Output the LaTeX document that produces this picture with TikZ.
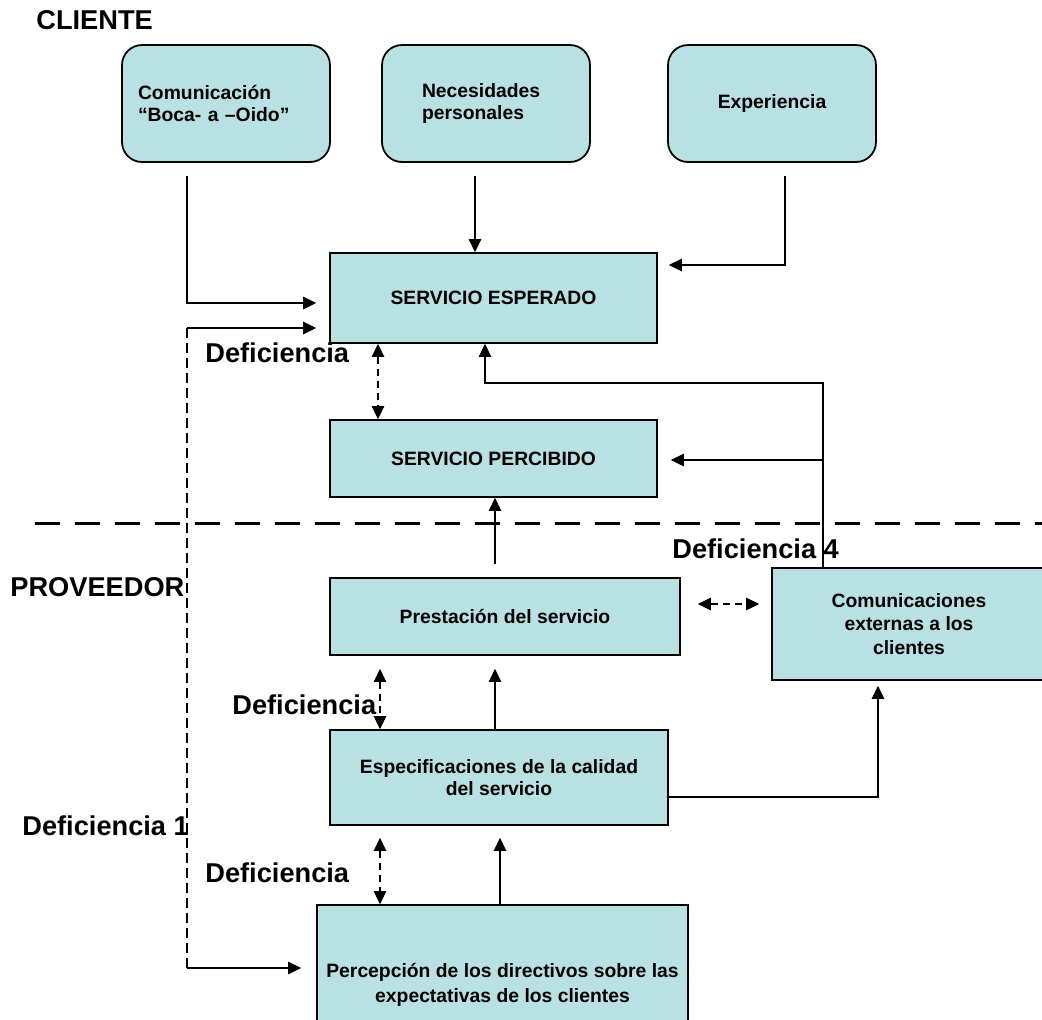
\documentclass[tikz,border=0pt]{standalone}
\usepackage{fontspec}
\setmainfont{Liberation Sans}
\usetikzlibrary{arrows.meta}
\definecolor{celeste}{RGB}{185,224,227}
\tikzset{
  caja/.style={draw, fill=celeste, line width=1pt, align=center, inner sep=2pt,
    font=\bfseries\fontsize{11}{13}\selectfont},
  redonda/.style={caja, rounded corners=0.4cm, minimum width=4.16cm, minimum height=2.34cm},
  etiqueta/.style={inner sep=0pt, anchor=west, font=\bfseries\fontsize{15.5}{18}\selectfont},
  flecha/.style={-{Triangle[length=0.26cm,width=0.25cm]}, line width=0.6pt},
  doble/.style={{Triangle[length=0.26cm,width=0.25cm]}-{Triangle[length=0.26cm,width=0.25cm]},
    line width=0.6pt, dash pattern=on 0.14cm off 0.1cm},
  guion/.style={line width=0.6pt, dash pattern=on 0.2cm off 0.1cm},
  separador/.style={line width=1.7pt, dash pattern=on 0.5cm off 0.3cm}
}
\begin{document}
\begin{tikzpicture}[x=0.02cm, y=-0.02cm]
  \useasboundingbox (0,0) rectangle (1042,1019);
  \clip (0,0) rectangle (1042,1019);
  % cliente
  \node[redonda, inner xsep=0.32cm, text width=3.52cm, align=left] (boca) at (226,103.5)
    {Comunicación\\“Boca- a –Oido”};
  \node[redonda, inner xsep=0.8cm, text width=2.56cm, align=left] (necesidades) at (486,103.5)
    {Necesidades\\personales};
  \node[redonda] (experiencia) at (772,103.5) {Experiencia};
  \node[caja, minimum width=6.54cm, minimum height=1.8cm] (esperado) at (493.5,298) {SERVICIO ESPERADO};
  \node[caja, minimum width=6.54cm, minimum height=1.54cm] (percibido) at (493.5,458.5) {SERVICIO PERCIBIDO};
  % proveedor
  \node[caja, minimum width=7cm, minimum height=1.54cm] (prestacion) at (505,616.5) {Prestación del servicio};
  \node[caja, minimum width=5.48cm, minimum height=2.24cm, font=\bfseries\fontsize{11}{13.6}\selectfont] (comext) at (909,624)
    {Comunicaciones\\externas a los\\clientes};
  \node[caja, minimum width=6.76cm, minimum height=1.9cm, font=\bfseries\fontsize{11}{12.5}\selectfont] (especificaciones) at (499,777.5)
    {Especificaciones de la calidad\\del servicio};
  \node[caja, minimum width=7.42cm, minimum height=3.2cm, font=\bfseries\fontsize{11}{14}\selectfont] (percepcion) at (502.5,985)
    {Percepción de los directivos sobre las\\expectativas de los clientes};

  \node[etiqueta] (cliente) at (36,20) {CLIENTE};
  \node[etiqueta] (proveedor) at (10,587) {PROVEEDOR};
  \node[etiqueta] (def) at (205,353) {Deficiencia};
  \node[etiqueta] (def4) at (672,549) {Deficiencia 4};
  \node[etiqueta] (defb) at (232,705) {Deficiencia};
  \node[etiqueta] (def1) at (22,826) {Deficiencia 1};
  \node[etiqueta] (defc) at (205,873) {Deficiencia};

  \draw[separador] (35,523) -- (1042,523);

  % hacia el servicio esperado
  \draw[flecha, shorten <=0.26cm, shorten >=0.26cm] (boca.south -| 187,0) |- (esperado.west |- 0,303);
  \draw[flecha, shorten <=0.26cm] (necesidades.south -| 475,0) -- (esperado.north -| 475,0);
  \draw[flecha, shorten <=0.26cm, shorten >=0.22cm] (experiencia.south -| 785,0) |- (esperado.east |- 0,265);
  \coordinate (d1) at (187,328);
  \coordinate (d2) at (187,968);
  \draw[guion] (d2) -- (d1);
  \draw[flecha, shorten >=0.26cm] (d1) -- (esperado.west |- d1);
  \draw[flecha, shorten >=0.3cm] (d2) -- (percepcion.west |- d2);
  \draw[doble] (esperado.south -| 378,0) -- (percibido.north -| 378,0);
  \coordinate (rama) at (823,383);
  \draw[flecha] (comext.north -| rama) -- (rama) -| (esperado.south -| 485,0);
  \draw[flecha, shorten >=0.26cm] (rama |- 0,460) -- (percibido.east |- 0,460);

  % dentro del proveedor
  \draw[flecha, shorten <=0.26cm] (prestacion.north -| 495,0) -- (percibido.south -| 495,0);
  \draw[doble, shorten <=0.34cm, shorten >=0.24cm] (prestacion.east |- 0,604) -- (comext.west |- 0,604);
  \draw[doble, shorten <=0.26cm] (prestacion.south -| 380,0) -- (especificaciones.north -| 380,0);
  \draw[flecha, shorten >=0.26cm] (especificaciones.north -| 495,0) -- (prestacion.south -| 495,0);
  \draw[flecha, shorten >=0.1cm] (especificaciones.east |- 0,797) -| (comext.south -| 878,0);
  \draw[doble, shorten <=0.24cm] (especificaciones.south -| 380,0) -- (percepcion.north -| 380,0);
  \draw[flecha, shorten >=0.24cm] (percepcion.north -| 500,0) -- (especificaciones.south -| 500,0);
\end{tikzpicture}
\end{document}
